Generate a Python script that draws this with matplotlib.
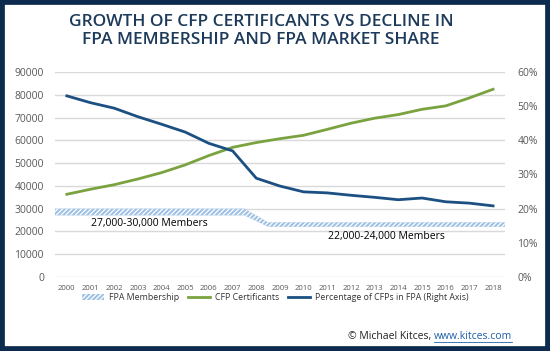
#!/usr/bin/env python3

import matplotlib
matplotlib.use("Agg")
import matplotlib.pyplot as plt
from matplotlib.patches import Patch, Rectangle
from matplotlib.lines import Line2D
from matplotlib.ticker import MultipleLocator, FuncFormatter

years = list(range(2000, 2019))

cfp_certificants = [36300, 38500, 40500, 43000, 45800, 49200, 53300, 56900, 59000, 60700,
                    62200, 64800, 67500, 69700, 71300, 73600, 75100, 78600, 82400]

pct_cfp_in_fpa = [53.0, 51.0, 49.4, 46.9, 44.7, 42.4, 39.1, 36.9, 28.9, 26.6,
                  24.9, 24.6, 23.9, 23.3, 22.6, 23.1, 22.0, 21.6, 20.8]

# FPA membership range (low / high), per year
fpa_low = [27000] * 8 + [22000] * 11
fpa_high = [30000] * 8 + [24000] * 11

NAVY = "#0d2b4e"
TITLE = "#1d3a5a"
GREEN = "#7aa33f"
BLUE = "#1c4f82"
BAND = "#9fc1e4"
GRID = "#d9d9d9"
TICK = "#595959"

plt.rcParams['font.family'] = ['Open Sans', 'DejaVu Sans']
plt.rcParams['hatch.linewidth'] = 0.9

fig = plt.figure(figsize=(5.5, 3.51), dpi=100)
ax = fig.add_axes([0.1, 0.211, 0.818, 0.584])

# band edges sit between categories
edges = [y - 0.5 for y in years] + [years[-1] + 0.5]
low_e = [fpa_low[0]] + fpa_low
high_e = [fpa_high[0]] + fpa_high
ax.fill_between(edges, low_e, high_e, facecolor=BAND, edgecolor="white",
                hatch="///////", linewidth=0, zorder=2)

ax.plot(years, cfp_certificants, color=GREEN, lw=2, zorder=3)

ax2 = ax.twinx()
ax2.plot(years, pct_cfp_in_fpa, color=BLUE, lw=2, zorder=3)

ax.set_xlim(years[0] - 0.5, years[-1] + 0.5)
ax.set_ylim(0, 90000)
ax2.set_ylim(0, 60)
ax.yaxis.set_major_locator(MultipleLocator(10000))
ax2.yaxis.set_major_locator(MultipleLocator(10))
ax2.yaxis.set_major_formatter(FuncFormatter(lambda v, p: f"{v:.0f}%"))
ax.set_xticks(years)
ax.set_xticklabels([str(y) for y in years])

ax.grid(axis="y", color=GRID, lw=1)
ax.set_axisbelow(True)
for a in (ax, ax2):
    for s in a.spines.values():
        s.set_visible(False)
    a.tick_params(length=0, colors=TICK)
ax.tick_params(axis="y", labelsize=7.5, pad=8)
ax.tick_params(axis="x", labelsize=5.6, pad=6)
ax2.tick_params(axis="y", labelsize=7.5, pad=9)

ax.text(2003.5, 23300, "27,000-30,000 Members", ha="center", va="center",
        fontsize=7.5, color="black", zorder=4)
ax.text(2013.5, 17600, "22,000-24,000 Members", ha="center", va="center",
        fontsize=7.5, color="black", zorder=4)

fig.text(0.475, 0.96, "GROWTH OF CFP CERTIFICANTS VS DECLINE IN\nFPA MEMBERSHIP AND FPA MARKET SHARE",
         ha="center", va="top", fontsize=12.5, fontweight="semibold", color=TITLE,
         linespacing=1.2)

handles = [Patch(facecolor=BAND, edgecolor="white", hatch="///////", lw=0),
           Line2D([], [], color=GREEN, lw=2),
           Line2D([], [], color=BLUE, lw=2)]
labels = ["FPA Membership", "CFP Certificants", "Percentage of CFPs in FPA (Right Axis)"]
leg = fig.legend(handles, labels, loc="center", bbox_to_anchor=(0.5, 0.153), ncol=3,
                 frameon=False, fontsize=6.3, handlelength=2.6, columnspacing=1.0,
                 handletextpad=0.5)
for t in leg.get_texts():
    t.set_color("#333333")

# credit line, right aligned, link underlined
link = fig.text(0.931, 0.04, "www.kitces.com", ha="right", va="center",
                fontsize=7.5, color="#1f5fa8")
fig.canvas.draw()
bb = link.get_window_extent().transformed(fig.transFigure.inverted())
fig.text(bb.x0, 0.04, "\u00a9 Michael Kitces, ", ha="right", va="center",
         fontsize=7.5, color="#222222")
fig.add_artist(Line2D([bb.x0, bb.x1], [bb.y0 + 0.002, bb.y0 + 0.002], color="#1f5fa8",
                      lw=0.6, transform=fig.transFigure))

fig.add_artist(Rectangle((0, 0), 1, 1, transform=fig.transFigure, fill=False,
                         edgecolor=NAVY, lw=7))

fig.savefig("out.png", dpi=100)
